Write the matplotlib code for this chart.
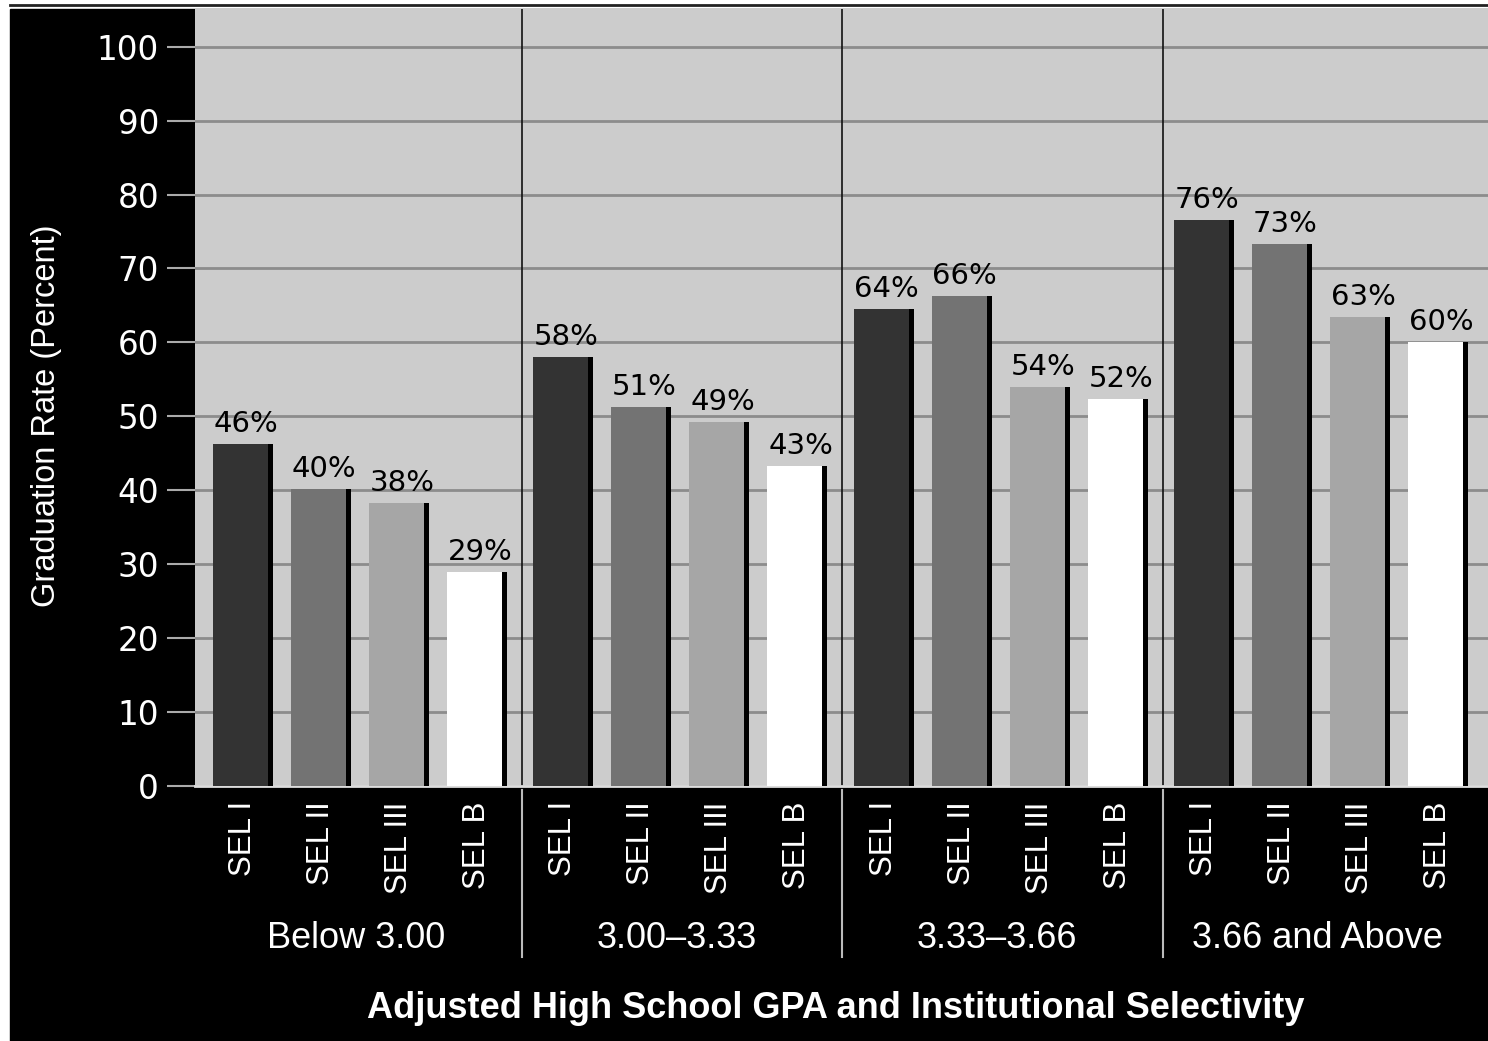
import matplotlib
matplotlib.use("Agg")
import matplotlib.pyplot as plt
from matplotlib.patches import Rectangle
from matplotlib.lines import Line2D

# datos
GROUPS = ["Below 3.00", "3.00\u20133.33", "3.33\u20133.66", "3.66 and Above"]
SEL = ["SEL I", "SEL II", "SEL III", "SEL B"]
RATES = [
    [46.3, 40.2, 38.3, 29.0],
    [58.0, 51.3, 49.3, 43.3],
    [64.5, 66.3, 54.0, 52.4],
    [76.5, 73.3, 63.5, 60.1],
]
LABELS = [
    ["46%", "40%", "38%", "29%"],
    ["58%", "51%", "49%", "43%"],
    ["64%", "66%", "54%", "52%"],
    ["76%", "73%", "63%", "60%"],
]
COLORS = ["#333333", "#737373", "#a6a6a6", "#ffffff"]

W, H = 1488, 1041
FONT = ["Liberation Sans", "DejaVu Sans"]
NUM = ["DejaVu Sans"]

fig = plt.figure(figsize=(W / 100, H / 100), dpi=100, facecolor="white")
fig.patches.append(Rectangle((10 / W, 0), 1 - 10 / W, 1 - 9 / H,
                             transform=fig.transFigure, color="black", zorder=-5))
fig.lines.append(Line2D([10 / W, 1], [1 - 5 / H, 1 - 5 / H], transform=fig.transFigure,
                        color="#222222", lw=2, zorder=-5))

ax_l, ax_b, ax_t = 195 / W, 1 - 786 / H, 1 - 9 / H
ax_h = ax_t - ax_b
ax = fig.add_axes([ax_l, ax_b, 1 - ax_l, ax_h])
ax.set_facecolor("#cccccc")

GSTEP = 4.107
bar_w, sh_w = 0.705, 0.064
xs, ticklabels = [], []
for g, vals in enumerate(RATES):
    for i, v in enumerate(vals):
        x = g * GSTEP + i
        xs.append(x)
        ticklabels.append(SEL[i])
        left = x - (bar_w + sh_w) / 2
        ax.bar(left, v, width=bar_w, align="edge", color=COLORS[i], zorder=3, lw=0)
        ax.bar(left + bar_w, v, width=sh_w, align="edge", color="black", zorder=3, lw=0)
        ax.text(x + 0.04, v + 1.62, LABELS[g][i], ha="center", va="baseline",
                fontsize=21, family=NUM, color="black", zorder=4)

ax.set_xlim(-0.615, 15.96)
ax.set_ylim(0, 105.1)
ax.set_yticks(range(0, 101, 10))
ax.yaxis.grid(True, color="#8c8c8c", lw=2)
ax.set_axisbelow(True)
ax.tick_params(axis="y", colors="#aaaaaa", length=20, width=1.5, pad=6,
               labelcolor="white", labelsize=23.5)
for lab in ax.get_yticklabels():
    lab.set_family(NUM)
ax.set_xticks(xs)
ax.set_xticklabels(ticklabels, rotation=90, fontsize=22.5, family=FONT, color="white")
ax.tick_params(axis="x", length=0, pad=11)
for s in ["top", "right", "left"]:
    ax.spines[s].set_visible(False)
ax.spines["bottom"].set_color("#dddddd")
ax.spines["bottom"].set_linewidth(2)

# separadores de grupo
trans = ax.get_xaxis_transform()
for g in range(1, 4):
    xd = g * GSTEP - 0.53
    ax.axvline(xd, color="#111111", lw=1.2, zorder=2)
    ax.add_line(Line2D([xd, xd], [-4 / (ax_h * H), -171 / (ax_h * H)],
                       transform=trans, color="#bbbbbb", lw=1.5, clip_on=False))

for g, name in enumerate(GROUPS):
    xc = g * GSTEP + 1.45
    ax.text(xc, -(939 - 786) / (ax_h * H), name, transform=trans,
            ha="center", va="center", fontsize=26, family=FONT, color="white")

fig.text((ax_l + 1) / 2 - 0.004, 1 - 1008 / H,
         "Adjusted High School GPA and Institutional Selectivity",
         ha="center", va="center", fontsize=26, fontweight="bold", family=FONT, color="white")
fig.text(47 / W, 1 - 416 / H, "Graduation Rate (Percent)", rotation=90,
         ha="center", va="center", fontsize=23.5, family=FONT, color="white")

fig.savefig("out.png", dpi=100, facecolor="white")
